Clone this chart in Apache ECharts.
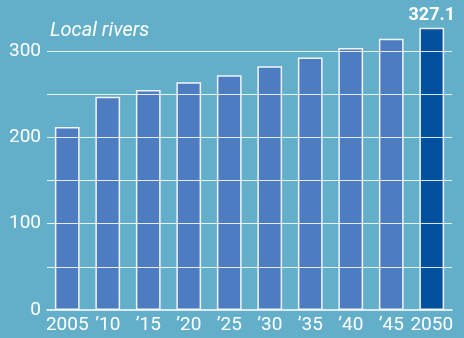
<!DOCTYPE html>
<html><head><meta charset="utf-8">
<script src="https://cdn.jsdelivr.net/npm/echarts@6/dist/echarts.min.js"></script>
<style>html,body{margin:0;padding:0;background:#63AFC9;}#c{width:464px;height:338px;}</style>
</head><body><div id="c"></div>
<script>
const categories = ["2005", "\u201910", "\u201915", "\u201920", "\u201925", "\u201930", "\u201935", "\u201940", "\u201945", "2050"];
const values = [212, 247, 255, 264, 272, 282.5, 292.5, 303.5, 314.5, 327.1];
const yTicks = [0, 100, 200, 300];
const titleText = "Local rivers";

const FONT = 'Roboto';
const chart = echarts.init(document.getElementById('c'), null, {renderer: 'canvas'});
const lastIdx = values.length - 1;
chart.setOption({
  backgroundColor: '#63AFC9',
  animation: false,
  title: {
    text: titleText, left: 45, top: 16,
    textStyle: {color: '#fff', fontStyle: 'italic', fontWeight: 'normal', fontSize: 20, fontFamily: FONT}
  },
  grid: {left: 47, right: 12, top: 8, bottom: 28, containLabel: false, outerBoundsMode: 'none'},
  xAxis: {
    type: 'category', data: categories,
    axisLine: {show: true, lineStyle: {color: '#fff', width: 1.5}},
    axisTick: {show: false},
    axisLabel: {color: '#fff', fontSize: 19, fontFamily: FONT, margin: 6, interval: 0}
  },
  yAxis: {
    type: 'value', min: 0, max: 350, interval: 50, z: 5,
    axisLine: {show: false}, axisTick: {show: false},
    axisLabel: {color: '#fff', fontSize: 19, fontFamily: FONT, margin: 6,
      formatter: v => yTicks.indexOf(v) >= 0 ? String(v) : ''},
    splitLine: {show: true, showMaxLine: false, showMinLine: false, lineStyle: {color: 'rgba(255,255,255,0.85)', width: 1.2}}
  },
  series: [{
    type: 'bar', barWidth: '61%', clip: false,
    data: values.map((v, i) => ({
      value: v,
      itemStyle: {color: i === lastIdx ? '#01509E' : '#4E7CC0'},
      label: i === lastIdx ? {show: true, position: 'top', distance: 3, color: '#fff', fontWeight: 'bold', fontSize: 18, fontFamily: FONT, formatter: '{c}'} : {show: false}
    })),
    itemStyle: {borderColor: 'rgba(255,255,255,0.9)', borderWidth: 1.5}
  }]
});
</script></body></html>
